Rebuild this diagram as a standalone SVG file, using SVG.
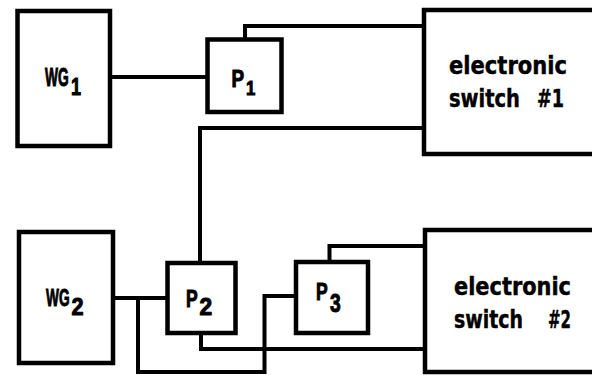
<svg xmlns="http://www.w3.org/2000/svg" width="592" height="375" viewBox="0 0 592 375">
<style>
.box{fill:#fff;stroke:#000;stroke-width:4.5}
.wire{fill:none;stroke:#000;stroke-width:4;stroke-linejoin:miter}
.t{font-family:"DejaVu Sans Condensed","DejaVu Sans","Liberation Sans",sans-serif;font-weight:bold;fill:#000;stroke:#000;stroke-width:0.4}
.big{font-size:24px}
.l{font-family:"Liberation Sans",Arial,sans-serif;font-weight:bold;fill:#000;stroke:#000;stroke-width:1}
</style>
<rect width="592" height="375" fill="#fff"/>
<g id="connectors">
<path class="wire" d="M110 77 H208"/>
<path class="wire" d="M245 40 V26 H424"/>
<path class="wire" d="M424 128 H200 V263"/>
<path class="wire" d="M113 298 H168"/>
<path class="wire" d="M138 298 V372 H264.5 V296 H296"/>
<path class="wire" d="M201 333 V349 H425"/>
<path class="wire" d="M329.5 262 V246 H425"/>
</g>
<g id="WG1">
<rect class="box" x="17.5" y="11" width="92.5" height="135"/>
<text class="l" font-size="25" transform="translate(45,86) scale(0.55,1)">WG</text>
<text class="l" font-size="24" transform="translate(71,95) scale(0.75,1)">1</text>
</g>
<g id="P1">
<rect class="box" x="207.5" y="39.5" width="74" height="72.5"/>
<text class="l" font-size="23" transform="translate(231.5,87) scale(0.82,1)">P</text>
<text class="l" font-size="21" transform="translate(246,95) scale(0.8,1)">1</text>
</g>
<g id="switch1">
<rect class="box" x="424" y="10" width="180" height="144"/>
<text class="t big" x="449" y="74" textLength="118" lengthAdjust="spacingAndGlyphs">electronic</text>
<text class="t big" x="449" y="107"><tspan textLength="71" lengthAdjust="spacingAndGlyphs">switch</tspan><tspan x="537" textLength="27" lengthAdjust="spacingAndGlyphs">#1</tspan></text>
</g>
<g id="WG2">
<rect class="box" x="19" y="232" width="94" height="131"/>
<text class="l" font-size="24" transform="translate(46,306) scale(0.57,1)">WG</text>
<text class="l" font-size="24" transform="translate(71.5,315) scale(0.9,1)">2</text>
</g>
<g id="P2">
<rect class="box" x="167.5" y="263" width="68" height="70"/>
<text class="l" font-size="24" transform="translate(186,307) scale(0.73,1)">P</text>
<text class="l" font-size="24" transform="translate(199.5,315) scale(0.95,1)">2</text>
</g>
<g id="P3">
<rect class="box" x="296" y="262" width="72" height="71"/>
<text class="l" font-size="24" transform="translate(316,300) scale(0.73,1)">P</text>
<text class="l" font-size="26" transform="translate(330,312) scale(0.74,1)">3</text>
</g>
<g id="switch2">
<rect class="box" x="425" y="230" width="180" height="142"/>
<text class="t big" x="454" y="295" textLength="117" lengthAdjust="spacingAndGlyphs">electronic</text>
<text class="t big" x="454" y="328"><tspan textLength="69" lengthAdjust="spacingAndGlyphs">switch</tspan><tspan x="548" textLength="23" lengthAdjust="spacingAndGlyphs">#2</tspan></text>
</g>
</svg>
